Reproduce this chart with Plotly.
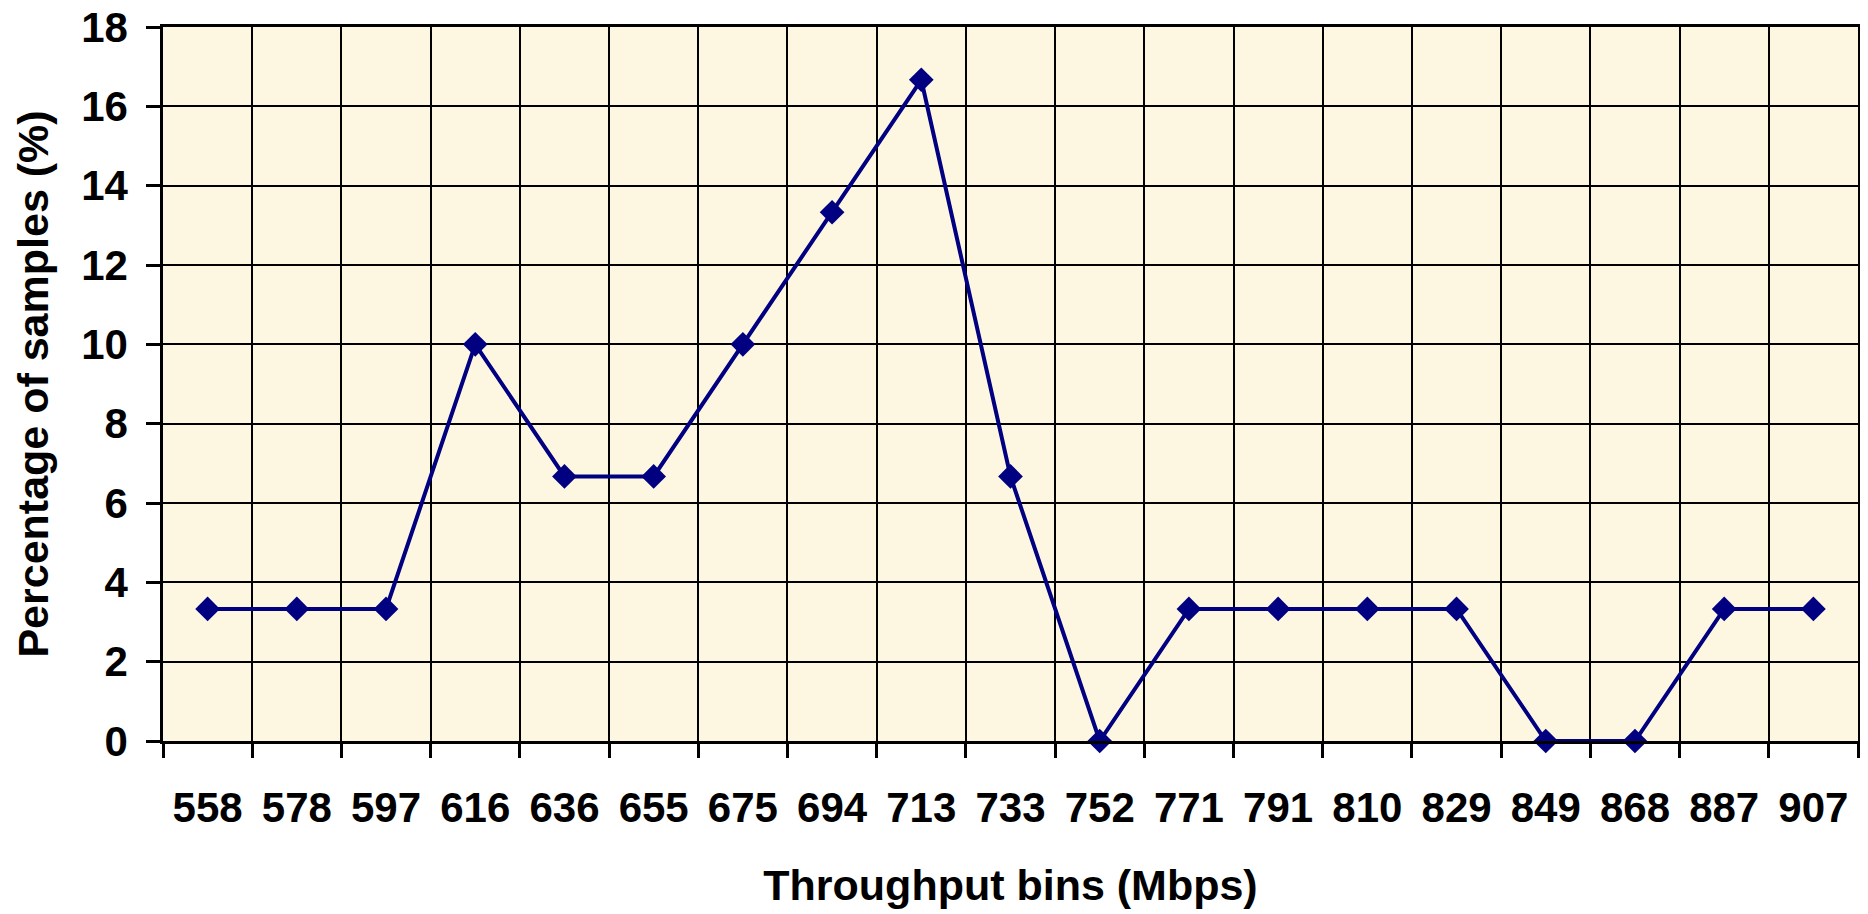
import plotly.graph_objects as go

bins = ["558", "578", "597", "616", "636", "655", "675", "694", "713", "733",
        "752", "771", "791", "810", "829", "849", "868", "887", "907"]
pct = [3.33, 3.33, 3.33, 10.0, 6.67, 6.67, 10.0, 13.33, 16.67, 6.67,
       0.0, 3.33, 3.33, 3.33, 3.33, 0.0, 0.0, 3.33, 3.33]

font = "Liberation Sans, Arial, sans-serif"
navy = "#000080"

fig = go.Figure()
fig.add_trace(go.Scatter(
    x=bins, y=pct, mode="lines+markers",
    line=dict(color=navy, width=4),
    marker=dict(symbol="diamond", size=19, color=navy),
    cliponaxis=False,
))

# page body has an 8px margin, so offsets are shifted by that
fig.update_layout(
    width=1868, height=914,
    margin=dict(l=155, r=18, t=19, b=181),
    paper_bgcolor="white",
    plot_bgcolor="#FDF7E1",
    showlegend=False,
    font=dict(family=font, color="black"),
)

fig.update_xaxes(
    type="category", range=[-0.5, 18.5], automargin=False,
    tickson="boundaries", ticks="outside", ticklen=14, tickwidth=2.5, tickcolor="black",
    showgrid=True, gridcolor="black", gridwidth=1.5,
    showline=True, linecolor="black", linewidth=2.5, mirror=True,
    tickfont=dict(size=42, family=font, weight="bold"),
    ticklabelstandoff=28,
    title=dict(text="<b>Throughput bins (Mbps)</b>", font=dict(size=43, family=font), standoff=40),
)
fig.update_yaxes(
    range=[0, 18], dtick=2, automargin=False, ticklabeloverflow="allow",
    ticks="outside", ticklen=14, tickwidth=2.5, tickcolor="black",
    showgrid=True, gridcolor="black", gridwidth=1.5, zeroline=False,
    showline=True, linecolor="black", linewidth=2.5, mirror=True,
    tickfont=dict(size=42, family=font, weight="bold"),
    ticklabelstandoff=10,
    title=dict(text="<b>Percentage of samples (%)</b>", font=dict(size=43, family=font), standoff=20),
)

fig.write_html("out.html")
